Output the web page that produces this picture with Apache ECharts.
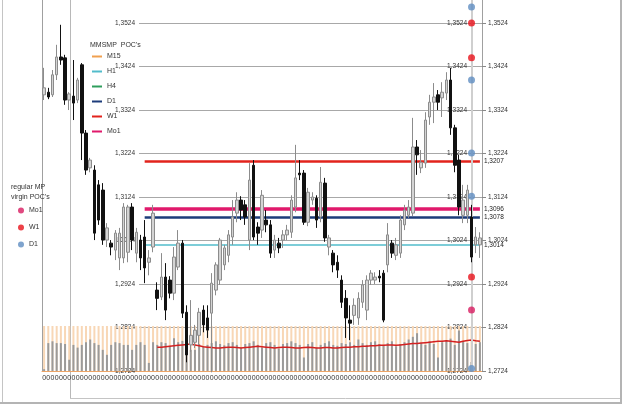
<!DOCTYPE html>
<html>
<head>
<meta charset="utf-8">
<script src="https://cdn.jsdelivr.net/npm/echarts@6/dist/echarts.min.js"></script>
<style>
html,body{margin:0;padding:0;background:#fff}
#chart{width:625px;height:408px}
</style>
</head>
<body>
<div id="chart"></div>
<script>
// candles: [open, close, low, high]
var candles = [
  [1.3359,1.3375,1.3347,1.3421],[1.3365,1.3354,1.3349,1.3375],[1.3359,1.3405,1.3354,1.3416],[1.3405,1.3446,1.3393,1.3474],
  [1.3446,1.3439,1.3428,1.3520],[1.3444,1.3347,1.3336,1.3451],[1.3347,1.3361,1.3324,1.3365],[1.3356,1.3340,1.3301,1.3439],
  [1.3347,1.3393,1.3340,1.3398],[1.3428,1.3271,1.3209,1.3432],[1.3271,1.3186,1.3175,1.3278],[1.3191,1.3209,1.3181,1.3214],
  [1.3186,1.3041,1.3025,1.3197],[1.3152,1.3071,1.3060,1.3163],[1.3140,1.3025,1.3014,1.3156],[1.3025,1.3053,1.3009,1.3064],
  [1.3018,1.3009,1.2990,1.3025],[1.3002,1.3041,1.2979,1.3048],[1.2984,1.3041,1.2956,1.3053],[1.2984,1.3101,1.2972,1.3110],
  [1.2997,1.3101,1.2974,1.3106],[1.3101,1.3025,1.3002,1.3110],[1.2995,1.3043,1.2974,1.3053],[1.3025,1.2984,1.2956,1.3037],
  [1.3032,1.2961,1.2926,1.3071],[1.2974,1.2984,1.2944,1.3002],[1.3009,1.3087,1.2997,1.3106],[1.2910,1.2891,1.2864,1.2928],
  [1.2894,1.2940,1.2887,1.2995],[1.2940,1.2864,1.2841,1.2972],[1.2933,1.2903,1.2891,1.2942],[1.2903,1.2986,1.2887,1.3009],
  [1.2963,1.3018,1.2956,1.3048],[1.3018,1.2857,1.2846,1.3025],[1.2859,1.2761,1.2744,1.2875],[1.2784,1.2806,1.2768,1.2887],
  [1.2790,1.2818,1.2777,1.2830],[1.2806,1.2859,1.2784,1.2869],[1.2864,1.2830,1.2813,1.2875],[1.2846,1.2818,1.2800,1.2875],
  [1.2857,1.2926,1.2721,1.2949],[1.2910,1.2968,1.2898,1.2974],[1.2933,1.3025,1.2922,1.3030],[1.2968,1.3007,1.2956,1.3014],
  [1.2990,1.3037,1.2974,1.3048],[1.3032,1.3078,1.3014,1.3117],[1.3087,1.3117,1.3066,1.3135],[1.3117,1.3094,1.3071,1.3126],
  [1.3106,1.3078,1.3060,1.3117],[1.3025,1.3163,1.3002,1.3202],[1.3197,1.3032,1.3025,1.3209],[1.3055,1.3041,1.3014,1.3066],
  [1.3048,1.3128,1.3030,1.3140],[1.3071,1.3060,1.3043,1.3094],[1.3060,1.2995,1.2984,1.3071],[1.3002,1.3025,1.2984,1.3037],
  [1.3018,1.3007,1.2995,1.3030],[1.3025,1.3037,1.3007,1.3048],[1.3037,1.3048,1.3025,1.3060],[1.3043,1.3117,1.3030,1.3128],
  [1.3101,1.3168,1.3089,1.3244],[1.3179,1.3175,1.3163,1.3209],[1.3179,1.3066,1.3060,1.3186],[1.3066,1.3135,1.3057,1.3145],
  [1.3117,1.3124,1.3106,1.3135],[1.3121,1.3071,1.3053,1.3128],[1.3078,1.3158,1.3066,1.3193],[1.3156,1.3030,1.3021,1.3168],
  [1.3009,1.3030,1.2990,1.3037],[1.2995,1.2968,1.2951,1.3002],[1.2974,1.2956,1.2938,1.2990],[1.2933,1.2882,1.2869,1.2944],
  [1.2891,1.2846,1.2800,1.2910],[1.2841,1.2834,1.2795,1.2875],[1.2852,1.2875,1.2830,1.2891],[1.2846,1.2891,1.2830,1.2905],
  [1.2882,1.2922,1.2869,1.2933],[1.2864,1.2933,1.2841,1.2944],[1.2933,1.2949,1.2922,1.2956],[1.2933,1.2940,1.2924,1.2951],
  [1.2942,1.2938,1.2928,1.2956],[1.2949,1.2841,1.2836,1.2956],[1.2968,1.3037,1.2951,1.3064],[1.3018,1.2995,1.2984,1.3025],
  [1.2990,1.3014,1.2979,1.3030],[1.2995,1.3071,1.2984,1.3082],[1.3060,1.3094,1.3048,1.3106],[1.3082,1.3101,1.3076,1.3117],
  [1.3087,1.3239,1.3080,1.3306],[1.3239,1.3221,1.3175,1.3255],[1.3191,1.3204,1.3179,1.3232],[1.3202,1.3301,1.3191,1.3319],
  [1.3308,1.3342,1.3290,1.3359],[1.3342,1.3354,1.3294,1.3386],[1.3359,1.3342,1.3324,1.3370],[1.3352,1.3365,1.3308,1.3388],
  [1.3363,1.3393,1.3347,1.3411],[1.3393,1.3283,1.3267,1.3421],[1.3283,1.3197,1.3181,1.3290],[1.3209,1.3101,1.3082,1.3221],
  [1.3082,1.3117,1.3064,1.3152],[1.3082,1.3140,1.3064,1.3152],[1.3078,1.2986,1.2974,1.3106],[1.3014,1.3032,1.2995,1.3055],
  [1.3014,1.3030,1.2984,1.3043]
];

// volume bars (0-100 scale of the lower pane)
var volumes = [
  4, 62, 66, 62, 62, 60, 25, 58, 52, 58,
  64, 70, 62, 58, 47, 36, 58, 64, 62, 58,
  58, 47, 58, 64, 58, 18, 64, 58, 64, 62,
  56, 73, 64, 67, 58, 47, 47, 60, 55, 58,
  62, 66, 60, 57, 62, 64, 58, 52, 60, 62,
  66, 58, 52, 62, 64, 58, 50, 60, 62, 66,
  62, 58, 30, 60, 64, 52, 58, 62, 66, 58,
  56, 62, 60, 64, 58, 70, 62, 58, 64, 66,
  60, 58, 62, 66, 55, 60, 64, 70, 76, 84,
  62, 58, 66, 60, 30, 64, 68, 72, 58, 90,
  66, 62, 20, 60, 64
];

// red average line on the volume pane, starts at candle maStart
var maStart = 27;
var maValues = [
  53, 53, 54, 55, 56, 57, 58, 59, 60, 58,
  56, 54, 53, 52, 51, 51, 52, 53, 53, 52,
  51, 52, 53, 54, 55, 54, 53, 52, 51, 52,
  53, 53, 52, 51, 51, 52, 53, 52, 51, 51,
  52, 52, 51, 51, 52, 53, 53, 54, 54, 55,
  55, 56, 56, 57, 57, 58, 58, 57, 58, 59,
  60, 61, 61, 62, 63, 64, 65, 66, 66, 67,
  66, 65, 64, 66, 68, 69, 67, 66
];

// POC lines
var pocStart = 24;
var pocH1 = 1.3014;
var pocD1 = 1.3078;
var pocW1 = 1.3207;
var pocMo1 = 1.3096;

// virgin POC dots (all drawn in one column)
var virginIndex = 102;
var virginMo1 = [1.2864];
var virginW1 = [1.3524, 1.3444, 1.2940];
var virginD1 = [1.3561, 1.3393, 1.3225, 1.3126, 1.2730];

var priceMin = 1.2724;
var priceMax = 1.3577;
var priceStep = 0.01;

var categories = '0'.repeat(candles.length).split('');

var FONT = 'Liberation Sans';

function fmt(v) {
  return v.toFixed(4).replace('.', ',');
}

function dots(values) {
  return values.map(function (v) { return [virginIndex, v]; });
}

function pocSeries(name, color, width, level) {
  return {
    name: name,
    type: 'line',
    data: [],
    xAxisIndex: 0,
    yAxisIndex: 0,
    z: 2,
    itemStyle: {color: color},
    lineStyle: {color: color, width: width},
    markLine: {
      silent: true,
      symbol: ['none', 'none'],
      lineStyle: {color: color, width: width, type: 'solid'},
      label: {
        show: true,
        position: 'end',
        distance: 4,
        formatter: function () { return fmt(level); },
        color: '#222',
        fontSize: 6.5,
        fontFamily: FONT
      },
      data: [[{coord: [pocStart, level]}, {coord: [candles.length - 1, level]}]]
    }
  };
}

var chart = echarts.init(document.getElementById('chart'));

var option = {
  animation: false,
  backgroundColor: '#fff',
  title: [{
    text: "MMSMP  POC's",
    left: 85,
    top: 37,
    textStyle: {fontSize: 7, fontWeight: 'normal', color: '#333', fontFamily: FONT}
  }, {
    text: "regular MP\nvirgin POC's",
    left: 6,
    top: 177,
    textStyle: {fontSize: 7, fontWeight: 'normal', color: '#333', fontFamily: FONT, lineHeight: 10}
  }],
  legend: [{
    orient: 'vertical',
    left: 87,
    top: 48,
    selectedMode: false,
    icon: 'rect',
    itemWidth: 10,
    itemHeight: 2,
    itemGap: 8,
    textStyle: {fontSize: 7, color: '#333', fontFamily: FONT},
    data: ['M15', 'H1', 'H4', 'D1', 'W1', 'Mo1']
  }, {
    orient: 'vertical',
    left: 13,
    top: 202,
    selectedMode: false,
    icon: 'circle',
    itemWidth: 6,
    itemHeight: 6,
    itemGap: 10,
    textStyle: {fontSize: 7, color: '#333', fontFamily: FONT},
    formatter: function (n) { return n.trim(); },
    data: ['Mo1 ', 'W1 ', 'D1 ']
  }],
  grid: [
    {left: 42, right: 143, top: 0, bottom: 37, outerBoundsMode: 'none'},
    {left: 139, right: 143, top: 0, bottom: 37, outerBoundsMode: 'none'},
    {left: 139, right: 143, top: 0, bottom: 37, outerBoundsMode: 'none'},
    {left: 42, right: 143, top: 326, bottom: 37, outerBoundsMode: 'none'}
  ],
  xAxis: [{
    gridIndex: 0,
    type: 'category',
    data: categories,
    axisLine: {show: false},
    axisTick: {show: false},
    axisLabel: {interval: 0, fontSize: 7, color: '#333', margin: 4, fontFamily: FONT}
  }, {
    gridIndex: 1, type: 'value', show: false
  }, {
    gridIndex: 2, type: 'value', show: false
  }, {
    gridIndex: 3,
    type: 'category',
    data: categories,
    position: 'top',
    axisLine: {show: true, lineStyle: {color: '#eda567', width: 1}},
    axisTick: {show: false},
    axisLabel: {show: false}
  }],
  yAxis: [{
    gridIndex: 0,
    type: 'value',
    min: priceMin,
    max: priceMax,
    interval: priceStep,
    axisLine: {show: true, lineStyle: {color: '#a0a0a0'}},
    axisTick: {show: false},
    axisLabel: {show: false},
    splitLine: {show: false}
  }, {
    gridIndex: 1,
    type: 'value',
    position: 'left',
    min: priceMin,
    max: priceMax,
    interval: priceStep,
    axisLine: {show: false},
    axisTick: {show: false},
    axisLabel: {
      formatter: fmt, fontSize: 6.5, color: '#333', margin: 4,
      showMaxLabel: false, fontFamily: FONT
    },
    splitLine: {show: true, showMaxLine: false, lineStyle: {color: '#a8a8a8', width: 1}}
  }, {
    gridIndex: 1,
    type: 'value',
    position: 'right',
    min: priceMin,
    max: priceMax,
    interval: priceStep,
    axisLine: {show: true, lineStyle: {color: '#a0a0a0'}},
    axisTick: {show: true, length: 4, lineStyle: {color: '#888'}},
    axisLabel: {
      formatter: fmt, fontSize: 6.5, color: '#333', margin: 6,
      showMaxLabel: false, fontFamily: FONT
    },
    splitLine: {show: false}
  }, {
    gridIndex: 2,
    type: 'value',
    position: 'right',
    min: priceMin,
    max: priceMax,
    interval: priceStep,
    axisLine: {show: false},
    axisTick: {show: false},
    axisLabel: {
      inside: true, formatter: fmt, fontSize: 6.5, color: '#333', margin: 15,
      showMaxLabel: false, fontFamily: FONT
    },
    splitLine: {show: false}
  }, {
    gridIndex: 3,
    type: 'value',
    min: 0,
    max: 100,
    show: false
  }],
  graphic: [
    {type: 'line', shape: {x1: 2.5, y1: 0, x2: 2.5, y2: 403}, style: {stroke: '#c4c4c4', lineWidth: 1}},
    {type: 'line', shape: {x1: 70.5, y1: 0, x2: 70.5, y2: 398}, style: {stroke: '#b8b8b8', lineWidth: 1}},
    {type: 'line', shape: {x1: 70, y1: 398.5, x2: 621, y2: 398.5}, style: {stroke: '#c4c4c4', lineWidth: 1}},
    {type: 'line', shape: {x1: 0, y1: 403, x2: 622, y2: 403}, style: {stroke: '#b4b4b4', lineWidth: 2}},
    {type: 'line', shape: {x1: 621, y1: 0, x2: 621, y2: 403}, style: {stroke: '#b4b4b4', lineWidth: 2}}
  ],
  series: [
    {name: 'M15', type: 'line', data: [], itemStyle: {color: '#f0a050'}, lineStyle: {color: '#f0a050'}},
    pocSeries('H1', '#52bccb', 1.5, pocH1),
    {name: 'H4', type: 'line', data: [], itemStyle: {color: '#2f9e5c'}, lineStyle: {color: '#2f9e5c'}},
    pocSeries('D1', '#1d3c7a', 2.5, pocD1),
    pocSeries('W1', '#e2231c', 2.5, pocW1),
    pocSeries('Mo1', '#e0196b', 3.5, pocMo1),
    {
      name: 'column',
      type: 'line',
      data: [],
      z: 1,
      markLine: {
        silent: true,
        symbol: ['none', 'none'],
        label: {show: false},
        lineStyle: {color: '#cfcfcf', width: 2, type: 'solid'},
        data: [{xAxis: virginIndex}]
      }
    },
    {
      name: 'price',
      type: 'candlestick',
      xAxisIndex: 0,
      yAxisIndex: 0,
      z: 5,
      barWidth: 3,
      clip: false,
      data: candles,
      itemStyle: {
        color: '#d4d4d4',
        borderColor: '#8c8c8c',
        color0: '#111',
        borderColor0: '#111',
        borderWidth: 1
      }
    },
    {
      name: 'Mo1 ', type: 'scatter', z: 6, clip: false, symbolSize: 7,
      itemStyle: {color: '#d81b60'}, data: dots(virginMo1)
    },
    {
      name: 'W1 ', type: 'scatter', z: 6, clip: false, symbolSize: 7,
      itemStyle: {color: '#e8121a'}, data: dots(virginW1)
    },
    {
      name: 'D1 ', type: 'scatter', z: 6, clip: false, symbolSize: 7,
      itemStyle: {color: '#5f8dc2'}, data: dots(virginD1)
    },
    {
      name: 'volume',
      type: 'bar',
      xAxisIndex: 3,
      yAxisIndex: 4,
      barWidth: 2,
      clip: false,
      z: 1,
      data: volumes,
      itemStyle: {color: '#9a9a9a'},
      showBackground: true,
      backgroundStyle: {color: '#f8d7b6'}
    },
    {
      name: 'average',
      type: 'line',
      xAxisIndex: 3,
      yAxisIndex: 4,
      z: 3,
      symbol: 'none',
      lineStyle: {color: '#d42121', width: 1.5},
      data: new Array(maStart).fill('-').concat(maValues)
    }
  ]
};

chart.setOption(option);
</script>
</body>
</html>
